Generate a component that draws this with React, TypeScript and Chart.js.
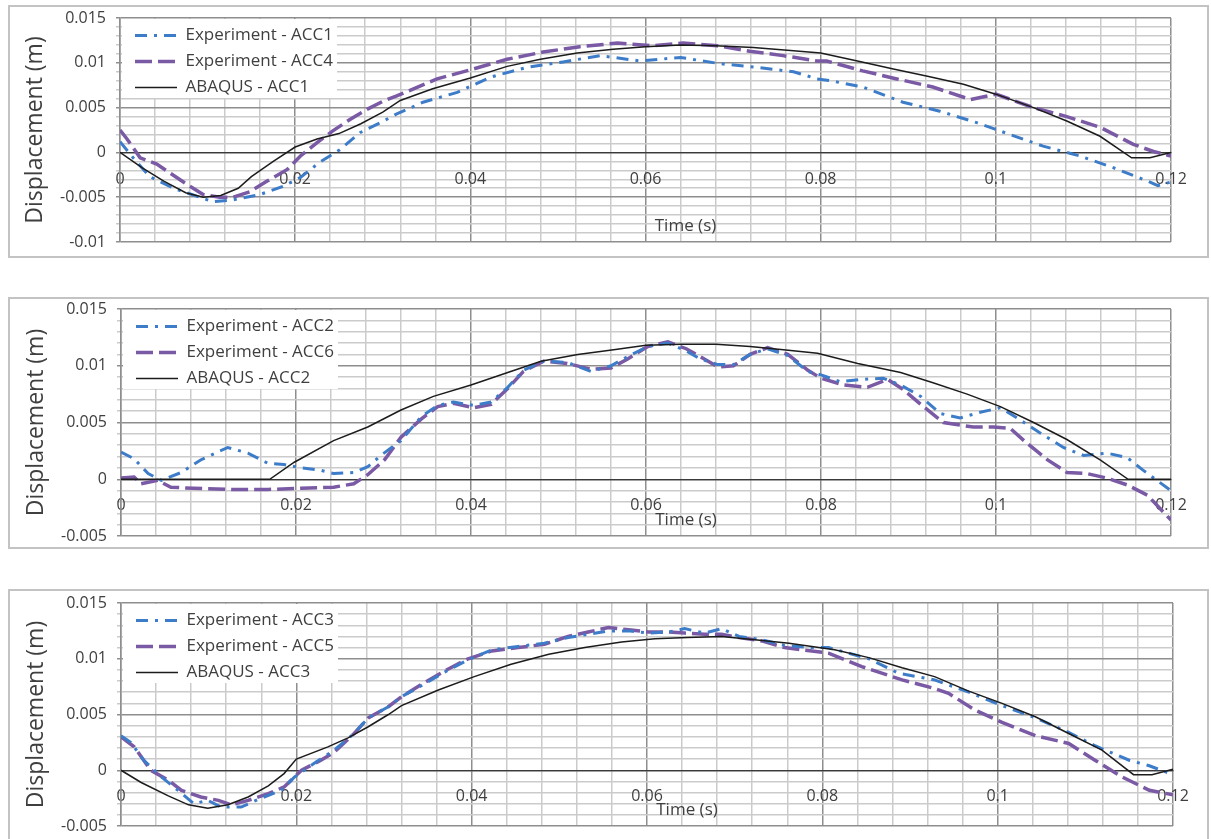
import React, { useEffect, useRef } from "react";
import { Chart, registerables } from "chart.js";

Chart.register(...registerables);

const FONT = "'Open Sans', 'DejaVu Sans', sans-serif";
const TEXT_COLOR = "#3f3f3f";
const BLUE = "#3d7cc8";
const PURPLE = "#7a59a5";
const BLACK = "#1c1c1c";
const GRID_MAJOR = "#8e8e8e";
const GRID_MINOR = "#cbcbcb";

const X_TITLE = "Time (s)";
const Y_TITLE = "Displacement (m)";

// x axis: grid every 0.004, labels every 0.02
const X_MIN = 0;
const X_MAX = 0.12;
const X_GRID_STEP = 0.004;
const xTickLabels = ["0", "0.02", "0.04", "0.06", "0.08", "0.1", "0.12"];
// y axis: grid every 0.001, labels every 0.005
const Y_GRID_STEP = 0.001;

// ---------- Panel 1 ----------
const p1Labels = ["Experiment - ACC1", "Experiment - ACC4", "ABAQUS - ACC1"];
const p1BlueT = [0, 0.0015, 0.0034, 0.0061, 0.0091, 0.0106, 0.0129, 0.016, 0.0186, 0.0206, 0.0228, 0.0251, 0.0274, 0.0297, 0.0316, 0.0328, 0.0346, 0.0385, 0.0423, 0.0465, 0.0506, 0.0548, 0.0594, 0.064, 0.0685, 0.0726, 0.0769, 0.0796, 0.0811, 0.0848, 0.0894, 0.0936, 0.0979, 0.1016, 0.1054, 0.1096, 0.1134, 0.1173, 0.1185, 0.12];
const p1BlueV = [0.0012, -0.0006, -0.0027, -0.004, -0.005, -0.0055, -0.0053, -0.0047, -0.0038, -0.0028, -0.0011, 0.0003, 0.0022, 0.0033, 0.0043, 0.0048, 0.0056, 0.0067, 0.0084, 0.0095, 0.0101, 0.0108, 0.0102, 0.0106, 0.0099, 0.0095, 0.009, 0.0082, 0.008, 0.0073, 0.0056, 0.0046, 0.0033, 0.002, 0.0007, -0.0004, -0.0017, -0.0032, -0.0037, -0.0033];
const p1PurpleT = [0, 0.0008, 0.0023, 0.0042, 0.0057, 0.0077, 0.0095, 0.0114, 0.0129, 0.0148, 0.0168, 0.0191, 0.0206, 0.0225, 0.0243, 0.0263, 0.0282, 0.03, 0.0316, 0.0362, 0.0403, 0.0442, 0.0483, 0.0525, 0.0568, 0.0609, 0.0643, 0.0682, 0.0719, 0.0757, 0.0796, 0.0807, 0.0848, 0.0887, 0.0928, 0.0971, 0.1, 0.1043, 0.1081, 0.1119, 0.1157, 0.118, 0.12];
const p1PurpleV = [0.0025, 0.0015, -0.0006, -0.0013, -0.0023, -0.0036, -0.0047, -0.005, -0.005, -0.0044, -0.0032, -0.0019, -0.0004, 0.0011, 0.0024, 0.0037, 0.0048, 0.0057, 0.0063, 0.0082, 0.0093, 0.0104, 0.0112, 0.0118, 0.0122, 0.0119, 0.0122, 0.0119, 0.0113, 0.0108, 0.0102, 0.0102, 0.0091, 0.0082, 0.0073, 0.0059, 0.0065, 0.005, 0.004, 0.0028, 0.0009, 0.0001, -0.0004];
const p1BlackT = [0, 0.0025, 0.005, 0.0075, 0.0095, 0.0115, 0.0135, 0.015, 0.0175, 0.02, 0.0225, 0.025, 0.0275, 0.03, 0.032, 0.0357, 0.04, 0.0442, 0.048, 0.0522, 0.0563, 0.06, 0.064, 0.068, 0.0723, 0.0762, 0.08, 0.0842, 0.0883, 0.0922, 0.0963, 0.1, 0.1043, 0.1081, 0.1119, 0.1155, 0.1176, 0.12];
const p1BlackV = [0, -0.0017, -0.0032, -0.0045, -0.005, -0.0048, -0.004, -0.0027, -0.001, 0.0006, 0.0015, 0.0021, 0.0032, 0.0045, 0.0058, 0.0071, 0.0083, 0.0096, 0.0104, 0.0111, 0.0115, 0.0118, 0.012, 0.0119, 0.0117, 0.0114, 0.0111, 0.0102, 0.0093, 0.0085, 0.0076, 0.0065, 0.005, 0.0035, 0.0018, -0.0006, -0.0006, 0];
const p1YLabels = ["-0.01", "-0.005", "0", "0.005", "0.01", "0.015"];

// ---------- Panel 2 ----------
const p2Labels = ["Experiment - ACC2", "Experiment - ACC6", "ABAQUS - ACC2"];
const p2BlueT = [0, 0.0015, 0.0031, 0.0046, 0.0069, 0.0091, 0.0122, 0.0145, 0.0168, 0.0186, 0.0206, 0.0228, 0.0243, 0.0266, 0.0282, 0.0297, 0.032, 0.0343, 0.0362, 0.038, 0.0403, 0.0423, 0.0442, 0.046, 0.0483, 0.051, 0.0537, 0.056, 0.0579, 0.0602, 0.0625, 0.0646, 0.0662, 0.0682, 0.07, 0.0719, 0.0739, 0.0762, 0.0785, 0.08, 0.0822, 0.0848, 0.0871, 0.0891, 0.0914, 0.0936, 0.0959, 0.0982, 0.1005, 0.1024, 0.105, 0.1077, 0.11, 0.1127, 0.115, 0.1168, 0.12];
const p2BlueV = [0.0024, 0.0018, 0.0005, -0.0001, 0.0006, 0.0017, 0.0028, 0.0023, 0.0014, 0.0013, 0.001, 0.0008, 0.0005, 0.0006, 0.0011, 0.0021, 0.0034, 0.0055, 0.0065, 0.0068, 0.0065, 0.0068, 0.0081, 0.0096, 0.0104, 0.0103, 0.0095, 0.01, 0.0108, 0.0117, 0.012, 0.0113, 0.0106, 0.0101, 0.0101, 0.011, 0.0115, 0.0109, 0.0095, 0.0092, 0.0086, 0.0088, 0.0089, 0.0083, 0.0073, 0.0058, 0.0054, 0.0059, 0.0063, 0.0054, 0.0041, 0.0028, 0.0021, 0.0023, 0.0019, 0.0008, -0.001];
const p2PurpleT = [0, 0.0015, 0.0023, 0.0042, 0.0057, 0.0083, 0.0129, 0.0168, 0.0206, 0.0243, 0.0266, 0.0282, 0.0301, 0.032, 0.0343, 0.0362, 0.038, 0.0403, 0.0423, 0.0442, 0.046, 0.0483, 0.051, 0.0537, 0.056, 0.0579, 0.0602, 0.0625, 0.0646, 0.0662, 0.0682, 0.07, 0.0719, 0.0739, 0.0762, 0.0785, 0.08, 0.0826, 0.0853, 0.0876, 0.0894, 0.0917, 0.094, 0.0974, 0.0997, 0.1016, 0.1035, 0.1059, 0.1081, 0.1104, 0.1127, 0.115, 0.1173, 0.12];
const p2PurpleV = [0.0001, 0.0002, -0.0004, -0.0001, -0.0007, -0.0008, -0.0009, -0.0009, -0.0008, -0.0007, -0.0004, 0.0004, 0.0017, 0.0037, 0.0053, 0.0064, 0.0067, 0.0063, 0.0066, 0.008, 0.0095, 0.0104, 0.0102, 0.0097, 0.0098, 0.0106, 0.0117, 0.0121, 0.0115, 0.0108, 0.0099, 0.01, 0.011, 0.0116, 0.011, 0.0096, 0.0089, 0.0083, 0.0081, 0.0088, 0.0079, 0.0064, 0.005, 0.0046, 0.0046, 0.0045, 0.0032, 0.0017, 0.0006, 0.0005, 0.0001, -0.0005, -0.0014, -0.0036];
const p2BlackT = [0, 0.017, 0.0198, 0.0243, 0.0282, 0.032, 0.0357, 0.04, 0.0442, 0.048, 0.0522, 0.0563, 0.06, 0.064, 0.068, 0.0719, 0.0757, 0.0796, 0.0842, 0.0891, 0.0928, 0.0967, 0.1005, 0.1043, 0.1081, 0.1119, 0.1151, 0.12];
const p2BlackV = [0, 0, 0.0015, 0.0034, 0.0046, 0.0061, 0.0073, 0.0083, 0.0094, 0.0104, 0.011, 0.0114, 0.0118, 0.0119, 0.0119, 0.0117, 0.0114, 0.0111, 0.0102, 0.0094, 0.0085, 0.0075, 0.0064, 0.005, 0.0035, 0.0017, 0, 0];
const p2YLabels = ["-0.005", "0", "0.005", "0.01", "0.015"];

// ---------- Panel 3 ----------
const p3Labels = ["Experiment - ACC3", "Experiment - ACC5", "ABAQUS - ACC3"];
const p3BlueT = [0, 0.0011, 0.0026, 0.0046, 0.0065, 0.0083, 0.0099, 0.0114, 0.0137, 0.016, 0.0183, 0.0198, 0.022, 0.0243, 0.0266, 0.0282, 0.0305, 0.032, 0.0343, 0.0369, 0.0396, 0.0423, 0.0453, 0.0483, 0.051, 0.0533, 0.0556, 0.0579, 0.0602, 0.0625, 0.0643, 0.0666, 0.0685, 0.0705, 0.0731, 0.0757, 0.0788, 0.0807, 0.0853, 0.0887, 0.0928, 0.0967, 0.1005, 0.1043, 0.1081, 0.1111, 0.115, 0.1173, 0.12];
const p3BlueV = [0.0031, 0.0025, 0.0009, -0.0006, -0.0018, -0.003, -0.0027, -0.0033, -0.0033, -0.0025, -0.0018, -0.0006, 0.0006, 0.0018, 0.0033, 0.0047, 0.0057, 0.0066, 0.0076, 0.0088, 0.0099, 0.0108, 0.0111, 0.0114, 0.0119, 0.0122, 0.0125, 0.0125, 0.0123, 0.0124, 0.0127, 0.0123, 0.0127, 0.012, 0.0117, 0.0112, 0.011, 0.011, 0.01, 0.0087, 0.0081, 0.007, 0.0058, 0.0047, 0.0034, 0.0022, 0.0009, 0.0004, -0.0004];
const p3PurpleT = [0, 0.0015, 0.0034, 0.0054, 0.0069, 0.0091, 0.0111, 0.0126, 0.0145, 0.0168, 0.0186, 0.0206, 0.0228, 0.0243, 0.0266, 0.0282, 0.0305, 0.032, 0.0343, 0.0369, 0.0396, 0.0423, 0.0453, 0.0483, 0.051, 0.0533, 0.0556, 0.0579, 0.0602, 0.0625, 0.0643, 0.0666, 0.0685, 0.0705, 0.0731, 0.0757, 0.0788, 0.0807, 0.0845, 0.0891, 0.0925, 0.0944, 0.0974, 0.1005, 0.1043, 0.1081, 0.1111, 0.1142, 0.1173, 0.12];
const p3PurpleV = [0.003, 0.0021, 0, -0.0009, -0.0018, -0.0024, -0.0027, -0.0031, -0.0027, -0.0021, -0.0015, 0, 0.0009, 0.0016, 0.0033, 0.0047, 0.0057, 0.0066, 0.0077, 0.0089, 0.01, 0.0107, 0.011, 0.0113, 0.012, 0.0124, 0.0128, 0.0126, 0.0124, 0.0124, 0.0123, 0.0122, 0.0122, 0.0119, 0.0116, 0.011, 0.0107, 0.0105, 0.0093, 0.0081, 0.0074, 0.0069, 0.0054, 0.0043, 0.0031, 0.0024, 0.0009, -0.0006, -0.0018, -0.0022];
const p3BlackT = [0, 0.0023, 0.0054, 0.0077, 0.0099, 0.0122, 0.0145, 0.0168, 0.0186, 0.02, 0.0236, 0.0259, 0.0282, 0.0305, 0.032, 0.0362, 0.0403, 0.0445, 0.0488, 0.0529, 0.0571, 0.0609, 0.0646, 0.0685, 0.0723, 0.0762, 0.0796, 0.0814, 0.0853, 0.0891, 0.0928, 0.0967, 0.1005, 0.1043, 0.1081, 0.1119, 0.1155, 0.1176, 0.12];
const p3BlackV = [0, -0.0011, -0.0023, -0.0031, -0.0034, -0.0031, -0.0024, -0.0014, -0.0003, 0.001, 0.0021, 0.0029, 0.0039, 0.005, 0.0058, 0.0072, 0.0084, 0.0095, 0.0104, 0.011, 0.0115, 0.0118, 0.0119, 0.012, 0.0117, 0.0114, 0.011, 0.0108, 0.0101, 0.0092, 0.0084, 0.0071, 0.006, 0.0048, 0.0033, 0.0018, -0.0004, -0.0004, 0.0001];
const p3YLabels = ["-0.005", "0", "0.005", "0.01", "0.015"];

type PanelDef = {
  labels: string[];
  blue: [number[], number[]];
  purple: [number[], number[]];
  black: [number[], number[]];
  yMin: number;
  yMax: number;
  yLabels: string[];
  top: number;
  height: number;
  pad: { left: number; top: number; right: number; bottom: number };
};

const panels: PanelDef[] = [
  { labels: p1Labels, blue: [p1BlueT, p1BlueV], purple: [p1PurpleT, p1PurpleV], black: [p1BlackT, p1BlackV], yMin: -0.01, yMax: 0.015, yLabels: p1YLabels, top: 5, height: 253, pad: { left: 10, top: 11, right: 36, bottom: 14 } },
  { labels: p2Labels, blue: [p2BlueT, p2BlueV], purple: [p2PurpleT, p2PurpleV], black: [p2BlackT, p2BlackV], yMin: -0.005, yMax: 0.015, yLabels: p2YLabels, top: 297, height: 252, pad: { left: 11, top: 10, right: 36, bottom: 11 } },
  { labels: p3Labels, blue: [p3BlueT, p3BlueV], purple: [p3PurpleT, p3PurpleV], black: [p3BlackT, p3BlackV], yMin: -0.005, yMax: 0.015, yLabels: p3YLabels, top: 589, height: 253, pad: { left: 11, top: 12, right: 34, bottom: 14 } },
];

const PANEL_LEFT = 8;
const PANEL_WIDTH = 1201;
const BORDER = 2;

const toXY = (t: number[], v: number[]) => t.map((x, i) => ({ x, y: v[i] }));

const LEGEND_FONT_SIZE = 17;
const LEGEND_PAD = 9;

const overlayPlugin = {
  id: "overlay",
  afterLayout(chart: any) {
    const lg = chart.legend;
    const ca = chart.chartArea;
    if (!lg || !ca) return;
    lg.left = ca.left + 6;
    lg.top = ca.top;
    lg.right = ca.right;
    lg.bottom = ca.bottom;
  },
  afterDatasetsDraw(chart: any) {
    const ctx = chart.ctx;
    const ca = chart.chartArea;
    const lg = chart.legend;
    if (lg) {
      ctx.save();
      ctx.font = `${LEGEND_FONT_SIZE}px ${FONT}`;
      let maxW = 0;
      (lg.legendItems || []).forEach((it: any) => {
        maxW = Math.max(maxW, ctx.measureText(it.text).width);
      });
      const boxW = lg.options.labels.pointStyleWidth;
      const right = lg.left + LEGEND_PAD + boxW + LEGEND_FONT_SIZE / 2 + maxW + 4;
      const bottom = ca.top + 80;
      ctx.fillStyle = "#ffffff";
      ctx.fillRect(ca.left + 2, ca.top + 1, right - ca.left - 2, bottom - ca.top - 1);
      ctx.restore();
      lg.draw();
    }
    ctx.save();
    ctx.font = `17px ${FONT}`;
    ctx.fillStyle = TEXT_COLOR;
    ctx.textAlign = "center";
    ctx.textBaseline = "middle";
    ctx.fillText(X_TITLE, (ca.left + ca.right) / 2 + 40, ca.bottom - 16);
    ctx.restore();
  },
};

function buildGrid(min: number, max: number, step: number): number[] {
  const out: number[] = [];
  const n = Math.round((max - min) / step);
  for (let i = 0; i <= n; i++) out.push(Number((min + i * step).toFixed(4)));
  return out;
}

function PanelChart({ def }: { def: PanelDef }) {
  const ref = useRef<HTMLCanvasElement | null>(null);
  useEffect(() => {
    if (!ref.current) return;
    const xGrid = buildGrid(X_MIN, X_MAX, X_GRID_STEP);
    const yGrid = buildGrid(def.yMin, def.yMax, Y_GRID_STEP);
    const yMajorStart = Math.round(def.yMin * 1000);
    const chart = new Chart(ref.current, {
      type: "line",
      data: {
        datasets: [
          { label: def.labels[0], data: toXY(def.blue[0], def.blue[1]), borderColor: BLUE, backgroundColor: BLUE, borderWidth: 3, borderDash: [12, 7, 3, 7], pointRadius: 0, tension: 0, fill: false, order: 1 },
          { label: def.labels[1], data: toXY(def.purple[0], def.purple[1]), borderColor: PURPLE, backgroundColor: PURPLE, borderWidth: 3.5, borderDash: [17, 6], pointRadius: 0, tension: 0, fill: false, order: 2 },
          { label: def.labels[2], data: toXY(def.black[0], def.black[1]), borderColor: BLACK, backgroundColor: BLACK, borderWidth: 1.5, pointRadius: 0, tension: 0, fill: false, order: 0 },
        ],
      },
      options: {
        animation: false,
        responsive: false,
        maintainAspectRatio: false,
        events: [],
        layout: { padding: def.pad },
        scales: {
          x: {
            type: "linear",
            min: X_MIN,
            max: X_MAX,
            position: { y: 0 },
            afterBuildTicks: (s: any) => {
              s.ticks = xGrid.map((v) => ({ value: v }));
            },
            afterFit: (s: any) => {
              s.paddingLeft = 0;
              s.paddingRight = 0;
            },
            ticks: {
              autoSkip: false,
              maxRotation: 0,
              minRotation: 0,
              padding: 17,
              color: TEXT_COLOR,
              font: { family: FONT, size: 16 },
              callback: (v: any) => {
                const k = Math.round(Number(v) * 1000);
                return k % 20 === 0 ? xTickLabels[k / 20] : "";
              },
            },
            grid: {
              drawTicks: false,
              color: (c: any) => (Math.round(c.tick.value * 1000) % 20 === 0 ? GRID_MAJOR : GRID_MINOR),
              lineWidth: 1.5,
            },
            border: { display: true, color: "#3a3a3a", width: 1.2 },
            title: { display: false },
          },
          y: {
            type: "linear",
            min: def.yMin,
            max: def.yMax,
            position: "left",
            afterBuildTicks: (s: any) => {
              s.ticks = yGrid.map((v) => ({ value: v }));
            },
            afterFit: (s: any) => {
              s.width = 100;
              s.paddingTop = 0;
              s.paddingBottom = 0;
            },
            ticks: {
              autoSkip: false,
              padding: 10,
              color: TEXT_COLOR,
              font: { family: FONT, size: 16 },
              callback: (v: any) => {
                const k = Math.round(Number(v) * 1000);
                if (k % 5 !== 0) return "";
                return def.yLabels[(k - yMajorStart) / 5];
              },
            },
            grid: {
              drawTicks: true,
              tickLength: 4,
              color: (c: any) => (Math.round(c.tick.value * 1000) % 5 === 0 ? GRID_MAJOR : GRID_MINOR),
              lineWidth: 1.5,
            },
            border: { display: true, color: GRID_MAJOR, width: 1.5 },
            title: {
              display: true,
              text: Y_TITLE,
              color: TEXT_COLOR,
              font: { family: FONT, size: 23 },
              padding: { top: 2, bottom: 0 },
            },
          },
        },
        plugins: {
          tooltip: { enabled: false },
          title: { display: false },
          legend: {
            display: true,
            position: "chartArea",
            align: "start",
            labels: {
              usePointStyle: true,
              pointStyle: "line",
              pointStyleWidth: 42,
              padding: LEGEND_PAD,
              color: TEXT_COLOR,
              font: { family: FONT, size: LEGEND_FONT_SIZE },
              sort: (a: any, b: any) => a.datasetIndex - b.datasetIndex,
              generateLabels: (ch: any) => {
                const base = (Chart.defaults as any).plugins.legend.labels.generateLabels(ch);
                return base.map((it: any) => {
                  const ds = ch.data.datasets[it.datasetIndex];
                  return {
                    ...it,
                    pointStyle: "line",
                    strokeStyle: ds.borderColor,
                    fillStyle: ds.borderColor,
                    lineWidth: ds.borderWidth,
                    lineDash: ds.borderDash || [],
                    lineDashOffset: 0,
                    lineCap: "butt",
                  };
                });
              },
            },
          },
        },
      } as any,
      plugins: [overlayPlugin],
    });
    return () => chart.destroy();
  }, [def]);

  const innerW = PANEL_WIDTH - 2 * BORDER;
  const innerH = def.height - 2 * BORDER;
  return (
    <div
      style={{
        position: "absolute",
        left: PANEL_LEFT,
        top: def.top,
        width: PANEL_WIDTH,
        height: def.height,
        boxSizing: "border-box",
        border: `${BORDER}px solid #c3c3c3`,
        background: "#ffffff",
      }}
    >
      <canvas ref={ref} width={innerW} height={innerH} style={{ display: "block", width: innerW, height: innerH }} />
    </div>
  );
}

export default function App() {
  return (
    <div
      style={{
        position: "absolute",
        left: 0,
        top: 0,
        width: 1211,
        height: 839,
        overflow: "hidden",
        background: "#ffffff",
      }}
    >
      {panels.map((p, i) => (
        <PanelChart key={i} def={p} />
      ))}
    </div>
  );
}
